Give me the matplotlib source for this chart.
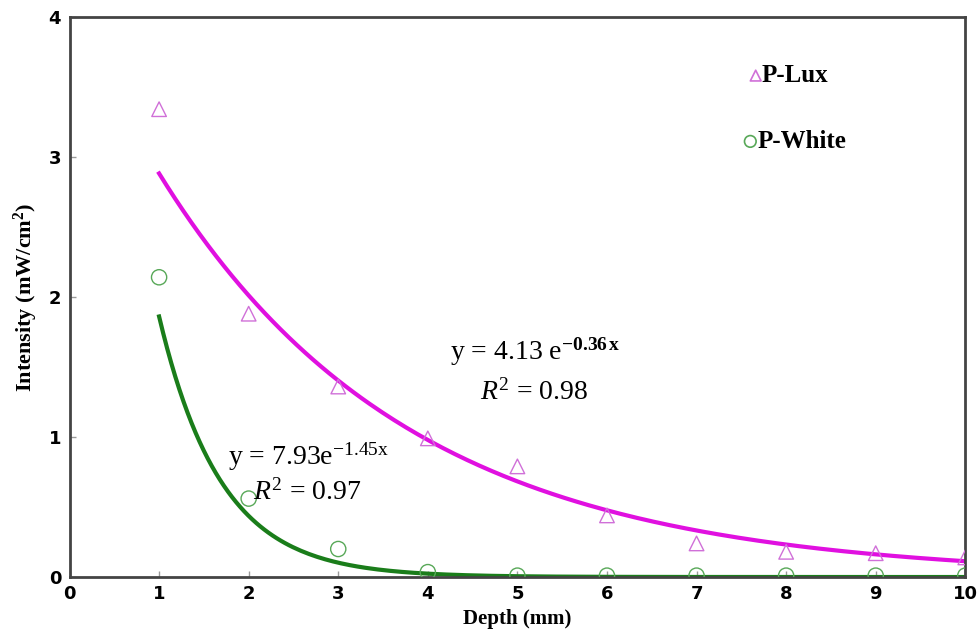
import numpy as np
import matplotlib
matplotlib.use('Agg')
from matplotlib import pyplot as plt

plt.rcParams['font.family'] = ['Liberation Serif', 'DejaVu Serif']
plt.rcParams['mathtext.fontset'] = 'custom'
plt.rcParams['mathtext.rm'] = 'Liberation Serif'
plt.rcParams['mathtext.it'] = 'Liberation Serif:italic'
plt.rcParams['mathtext.bf'] = 'Liberation Serif:bold'

# measured points
depth = [1, 2, 3, 4, 5, 6, 7, 8, 9, 10]
lux = [3.34, 1.88, 1.36, 0.99, 0.79, 0.44, 0.24, 0.18, 0.17, 0.14]
white = [2.14, 0.56, 0.20, 0.035, 0.01, 0.01, 0.01, 0.01, 0.01, 0.01]

# exponential fits shown on the chart: y = a * exp(b x)
lux_a, lux_b = 4.13, -0.36
white_a, white_b = 7.93, -1.45

fig = plt.figure(figsize=(9.79, 6.44), dpi=100)
ax = fig.add_axes([0.071, 0.104, 0.915, 0.870])

xs = np.linspace(1, 10, 200)
ax.plot(xs, lux_a * np.exp(lux_b * xs), color='#e010e0', lw=3.0, zorder=2)
ax.plot(xs, white_a * np.exp(white_b * xs), color='#1a7d1a', lw=3.0, zorder=2)

ax.scatter(depth, lux, marker='^', s=110, facecolors='none',
           edgecolors='#d070d8', linewidths=1.0, zorder=3)
ax.scatter(depth, white, marker='o', s=120, facecolors='none',
           edgecolors='#58a858', linewidths=1.0, zorder=3)

ax.set_xlim(0, 10)
ax.set_ylim(0, 4)
ax.set_xticks(range(0, 11))
ax.set_yticks(range(0, 5))
ax.tick_params(direction='in', length=4, width=1, color='#999999',
               labelsize=13, pad=6)
for lab in ax.get_xticklabels() + ax.get_yticklabels():
    lab.set_fontweight('bold')
    lab.set_family('DejaVu Sans')
for s in ax.spines.values():
    s.set_color('#444444')
    s.set_linewidth(2)

ax.set_xlabel('Depth (mm)', fontsize=15, fontweight='bold', labelpad=4)
ax.set_ylabel(r'Intensity (mW/cm$^\mathbf{2}$)', fontsize=16,
              fontweight='bold', labelpad=6)

# legend drawn by hand like the original
ax.scatter([7.66], [3.58], marker='^', s=60, facecolors='none',
           edgecolors='#d070d8', linewidths=1.2)
ax.text(7.73, 3.58, 'P-Lux', fontsize=18, fontweight='bold', va='center')
ax.scatter([7.6], [3.11], marker='o', s=70, facecolors='none',
           edgecolors='#58a858', linewidths=1.2)
ax.text(7.68, 3.11, 'P-White', fontsize=18, fontweight='bold', va='center')

ax.text(4.25, 1.55, r'y = 4.13 e$^{\mathbf{-0.36\,x}}$', fontsize=20)
ax.text(4.58, 1.27, r'$R^2$ = 0.98', fontsize=20)
ax.text(1.77, 0.80, r'y = 7.93e$^{\mathrm{-1.45x}}$', fontsize=20)
ax.text(2.05, 0.55, r'$R^2$ = 0.97', fontsize=20)

fig.savefig('out.png', dpi=100)
